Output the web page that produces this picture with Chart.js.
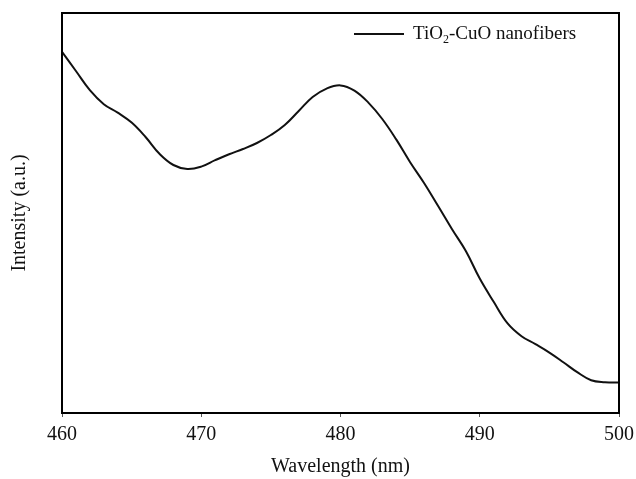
<!DOCTYPE html>
<html>
<head>
<meta charset="utf-8">
<script src="https://cdn.jsdelivr.net/npm/chart.js@4/dist/chart.umd.min.js"></script>
<style>
  html, body { margin: 0; padding: 0; background: #fff; }
  #box { width: 636px; height: 479px; }
</style>
</head>
<body>
<div id="box"><canvas id="myChart"></canvas></div>
<script>
// values (intensity in arbitrary units, 0-100 scale)
const wavelength = [460, 461, 462, 463, 464, 465, 466, 467, 468, 469, 470,
    471, 472, 473, 474, 475, 476, 477, 478, 479, 480,
    481, 482, 483, 484, 485, 486, 487, 488, 489, 490,
    491, 492, 493, 494, 495, 496, 497, 498, 499, 500];
const intensity = [90.3, 85.5, 80.7, 77.2, 75.1, 72.6, 69.0, 64.8, 62.0, 61.0, 61.6,
    63.2, 64.7, 66.0, 67.5, 69.5, 72.0, 75.5, 79.0, 81.1, 81.9,
    80.6, 77.6, 73.5, 68.4, 62.7, 57.5, 51.8, 46.0, 40.5, 33.6,
    27.8, 22.4, 19.2, 17.2, 15.1, 12.7, 10.2, 8.2, 7.7, 7.6];
const xTicks = [460, 470, 480, 490, 500];
const seriesLabel = 'TiO\u2082-CuO nanofibers';

const serif = "'Liberation Serif', 'Times New Roman', serif";

document.addEventListener('DOMContentLoaded', function() {
    const ctx = document.getElementById('myChart').getContext('2d');

    // box round the plot area
    const frame = {
        id: 'frame',
        afterDraw(chart) {
            const a = chart.chartArea;
            const c = chart.ctx;
            c.save();
            c.strokeStyle = '#000';
            c.lineWidth = 2;
            c.strokeRect(a.left, a.top, a.right - a.left, a.bottom - a.top);
            c.restore();
        }
    };

    // legend inside the plot, with a real subscript for the "2"
    const innerLegend = {
        id: 'innerLegend',
        afterDraw(chart) {
            const a = chart.chartArea;
            const c = chart.ctx;
            const ds = chart.data.datasets[0];
            const y = a.top + 21;
            const x0 = a.right - 265;
            c.save();
            c.strokeStyle = ds.borderColor;
            c.lineWidth = 2;
            c.beginPath();
            c.moveTo(x0, y);
            c.lineTo(x0 + 50, y);
            c.stroke();

            c.fillStyle = '#111';
            c.textBaseline = 'middle';
            c.textAlign = 'left';
            const parts = ds.label.split('\u2082');
            let x = x0 + 59;
            c.font = '19px ' + serif;
            c.fillText(parts[0], x, y);
            x += c.measureText(parts[0]).width;
            c.font = '12px ' + serif;
            c.fillText('2', x, y + 6);
            x += c.measureText('2').width;
            c.font = '19px ' + serif;
            c.fillText(parts[1], x, y);
            c.restore();
        }
    };

    new Chart(ctx, {
        type: 'line',
        data: {
            datasets: [{
                label: seriesLabel,
                data: wavelength.map((w, i) => ({ x: w, y: intensity[i] })),
                borderColor: '#111111',
                borderWidth: 2,
                pointRadius: 0,
                fill: false,
                tension: 0.4
            }]
        },
        options: {
            responsive: true,
            maintainAspectRatio: false,
            animation: false,
            layout: {
                padding: { top: 13, right: 17, bottom: 0, left: 0 }
            },
            scales: {
                x: {
                    type: 'linear',
                    min: 460,
                    max: 500,
                    afterBuildTicks: function(scale) {
                        scale.ticks = xTicks.map(v => ({ value: v }));
                    },
                    afterFit: function(scale) {
                        scale.height = 66;
                        scale.paddingRight = 0;
                    },
                    border: { display: false },
                    grid: {
                        drawOnChartArea: false,
                        drawTicks: true,
                        tickLength: 4,
                        tickColor: '#555'
                    },
                    ticks: {
                        color: '#111',
                        padding: 6,
                        maxRotation: 0,
                        font: { family: serif, size: 20 }
                    },
                    title: {
                        display: true,
                        text: 'Wavelength (nm)',
                        color: '#111',
                        padding: { top: 0, bottom: 0 },
                        font: { family: serif, size: 20 }
                    }
                },
                y: {
                    min: 0,
                    max: 100,
                    afterFit: function(scale) {
                        scale.width = 62;
                    },
                    border: { display: false },
                    grid: { display: false },
                    ticks: { display: false },
                    title: {
                        display: true,
                        text: 'Intensity (a.u.)',
                        color: '#111',
                        padding: { top: 8, bottom: 0 },
                        font: { family: serif, size: 20 }
                    }
                }
            },
            plugins: {
                legend: { display: false },
                tooltip: { enabled: false }
            }
        },
        plugins: [frame, innerLegend]
    });
});
</script>
</body>
</html>
